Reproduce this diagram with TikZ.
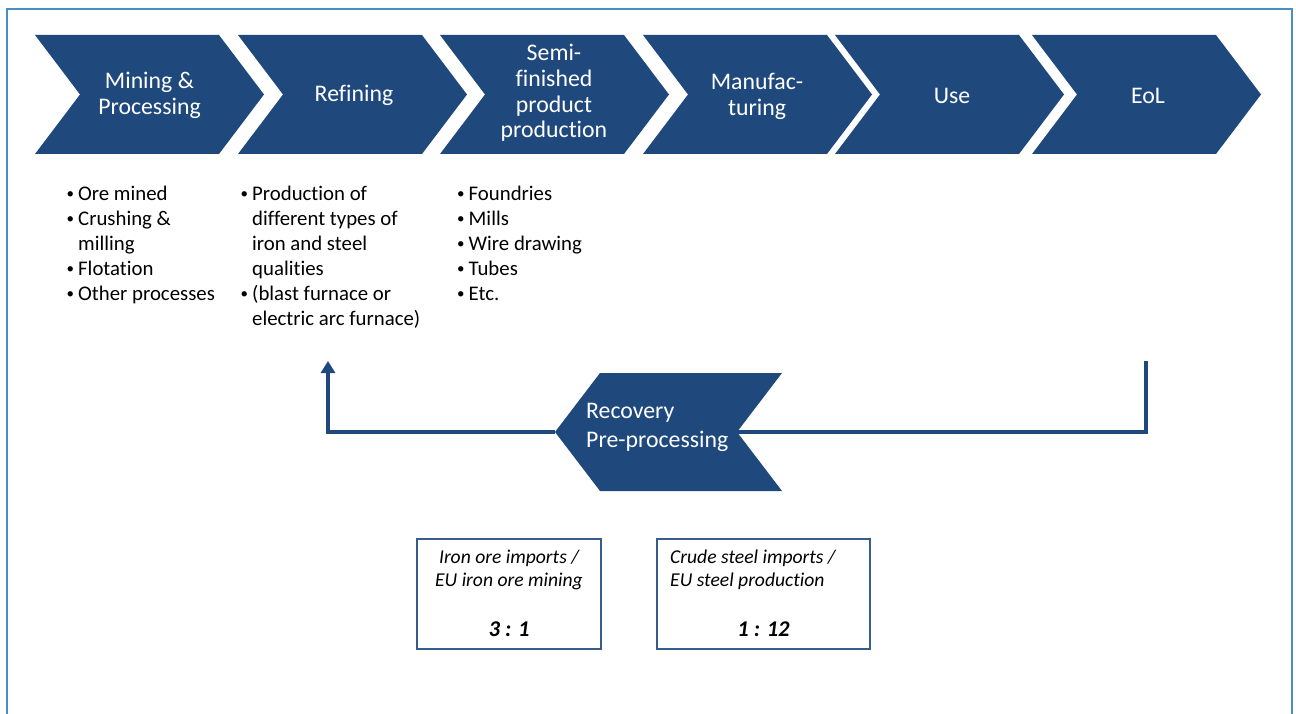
\documentclass[tikz,border=0pt]{standalone}
\usepackage{fontspec}
\setmainfont{Carlito}[Ligatures=NoCommon]
\usetikzlibrary{arrows.meta}
\definecolor{cbl}{HTML}{1F497D}
\definecolor{frm}{HTML}{4A8DC2}
\definecolor{bxb}{HTML}{385D8A}
\newcommand\bul{\makebox[12.5pt][l]{\hspace*{1pt}\raisebox{1.6pt}{\fontsize{15}{15}\selectfont\textbullet}}}
\newcommand\ind{\hspace*{12.5pt}}
\begin{document}
\begin{tikzpicture}[x=1pt,y=-1pt,
  chevfill/.style={fill=cbl},
  chevtxt/.style={text=white,font=\fontsize{23.8}{25.8}\selectfont,align=center,inner sep=0pt},
  bullist/.style={anchor=base west,align=left,inner sep=0pt,font=\fontsize{20.8}{25}\selectfont},
  ratiobox/.style={draw=bxb,line width=1.3pt,minimum width=184pt,minimum height=110pt,inner sep=0pt},
  boxtxt/.style={inner sep=0pt,font=\fontsize{19.6}{23.5}\selectfont\itshape},
  ratiotxt/.style={inner sep=0pt,font=\fontsize{22.5}{26}\selectfont\bfseries\itshape},
  flow/.style={draw=cbl,line width=4.6pt}
]
\useasboundingbox (0,0) rectangle (1296,714);
% outer frame
\draw[frm,line width=2pt] (7,720) -- (7,9) -- (1292,9) -- (1292,720);
% chevrons
\foreach \x in {35,238,440,643,835,1032}{
  \fill[chevfill] (\x,35) -- ++(184,0) -- ++(45,59.5) -- ++(-45,59.5) -- ++(-184,0) -- ++(45,-59.5) -- cycle;
}
\node[chevtxt] (c1) at (149.5,95) {Mining \&\\Processing};
\node[chevtxt] (c2) at (354,95) {Refining};
\node[chevtxt] (c3) at (554,93) {Semi-\\finished\\product\\production};
\node[chevtxt] (c4) at (757,96) {Manufac-\\turing};
\node[chevtxt] (c5) at (952,96) {Use};
\node[chevtxt] (c6) at (1148,96) {EoL};
% bullet lists (anchored at the baseline of the last line)
\node[bullist] (l1) at (65.5,300) {\bul Ore mined\\\bul Crushing \&\\\ind milling\\\bul Flotation\\\bul Other processes};
\node[bullist] (l2) at (239.5,325) {\bul Production of\\\ind different types of\\\ind iron and steel\\\ind qualities\\\bul (blast furnace or\\\ind electric arc furnace)};
\node[bullist] (l3) at (456,300) {\bul Foundries\\\bul Mills\\\bul Wire drawing\\\bul Tubes\\\bul Etc.};
% recovery chevron
\fill[chevfill] (600,373) -- (782,373) -- (737,432) -- (782,491) -- (600,491) -- (555,432) -- cycle;
\node[chevtxt,align=left,anchor=west,font=\fontsize{23.8}{29}\selectfont] (rec) at (586,427) {Recovery\\Pre-processing};
\coordinate (recR) at (737,432);
\coordinate (recL) at (555,432);
\coordinate (eolend) at (1146,361);
\coordinate (refin) at (328,361);
% flow lines
\draw[flow,line join=miter] (eolend) |- (recR);
\draw[flow,line join=miter,-{Triangle[width=14pt,length=12pt]}] (recL) -| (refin);
% ratio boxes
\node[ratiobox] (b1) at (509,594) {};
\node[ratiobox,minimum width=213pt] (b2) at (763.5,594) {};
\node[boxtxt,anchor=base,align=center] (t1) at (509,586.5) {Iron ore imports /\\EU iron ore mining};
\node[ratiotxt,anchor=base] (r1) at (509,636) {3 : 1};
\node[boxtxt,anchor=base west,align=left] (t2) at (670,586.5) {Crude steel imports /\\EU steel production};
\node[ratiotxt,anchor=base] (r2) at (763.5,636) {1 : 12};
\end{tikzpicture}
\end{document}
